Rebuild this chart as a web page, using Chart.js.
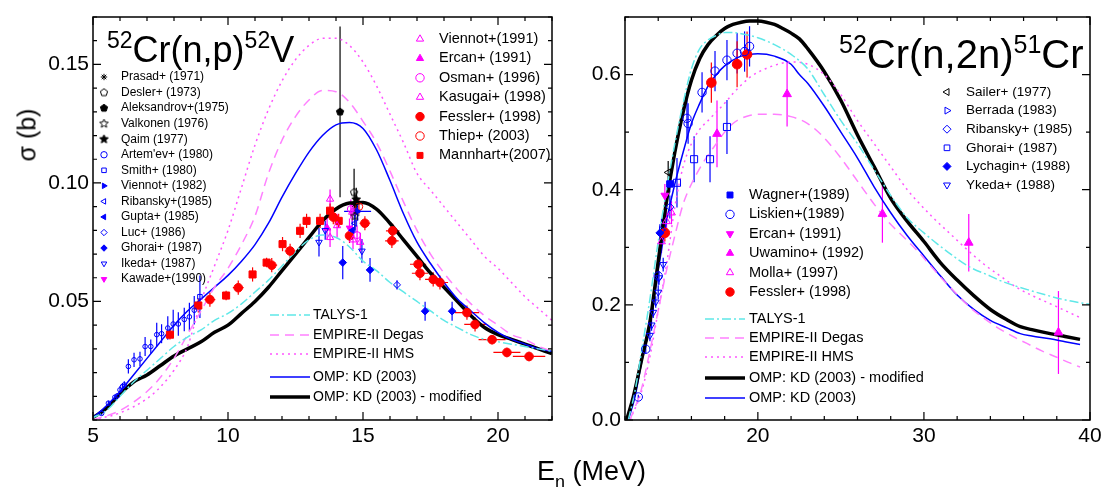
<!DOCTYPE html>
<html>
<head>
<meta charset="utf-8">
<title>52Cr(n,p)52V and 52Cr(n,2n)51Cr</title>
<script src="https://cdn.jsdelivr.net/npm/chart.js"></script>
<style>
  body { margin: 0; background: #fff; }
  #wrap { position: relative; width: 1118px; height: 487px; overflow: hidden;
          font-family: "Liberation Sans", Arial, sans-serif; color: #000; }
  .panel { position: absolute; top: 0; height: 487px; }
  .txt { position: absolute; white-space: nowrap; line-height: 1; }
  .sup { position: relative; }
</style>
</head>
<body>
<div id="wrap">
  <div class="panel" style="left:0;width:560px"><canvas id="npChart"></canvas></div>
  <div class="panel" style="left:560px;width:558px"><canvas id="n2nChart"></canvas></div>

  <div class="txt" style="left:107px;top:32px;font-size:36px"><span class="sup" style="font-size:23px;top:-14px">52</span>Cr(n,p)<span class="sup" style="font-size:23px;top:-14px">52</span>V</div>
  <div class="txt" style="left:839px;top:34px;font-size:40px"><span class="sup" style="font-size:25px;top:-15px">52</span>Cr(n,2n)<span class="sup" style="font-size:25px;top:-15px">51</span>Cr</div>

  <div class="txt" style="left:27px;top:135px;font-size:25px;transform:translate(-50%,-50%) rotate(-90deg)">σ (b)</div>
  <div class="txt" style="left:537px;top:458px;font-size:27px">E<span class="sup" style="font-size:18px;top:8px">n</span> (MeV)</div>
</div>

<script>
// ---------- 52Cr(n,p)52V : 左图数据 [E (MeV), σ (b), dσ, dE] ----------
const npXTicks = [5, 10, 15, 20];
const npYTicks = [0.05, 0.10, 0.15];

const npPrasad = [[14.7, 0.091, 0.005]];
const npDesler = [[14.67, 0.096, 0.010]];
const npAleksandrov = [[14.15, 0.130, 0.036]];
const npValkonen = [[14.7, 0.086, 0.006]];
const npQaim = [[14.75, 0.093, 0.005]];
const npArtemev = [[5.32, 0.0028, 0.0008], [5.57, 0.0071, 0.001], [5.81, 0.0096, 0.001], [5.9, 0.0102, 0.001],
  [6.0, 0.0127, 0.0015], [6.09, 0.0141, 0.0015], [6.16, 0.0148, 0.0015], [6.31, 0.0226, 0.003],
  [6.52, 0.0254, 0.003], [6.74, 0.0258, 0.003], [6.93, 0.031, 0.004], [7.14, 0.031, 0.003],
  [7.36, 0.036, 0.005], [7.54, 0.0364, 0.004], [7.77, 0.0388, 0.005], [7.97, 0.0405, 0.006],
  [8.16, 0.0405, 0.005], [8.38, 0.0424, 0.005], [8.57, 0.0435, 0.006], [8.75, 0.0463, 0.006]];
const npSmith = [[8.96, 0.052, 0.009]];
const npViennot82 = [[14.8, 0.088, 0.004, 0.5]];
const npRibansky = [[14.7, 0.083, 0.004]];
const npGupta = [[14.6, 0.080, 0.004]];
const npLuc = [[16.26, 0.057, 0.002]];
const npGhorai = [[14.25, 0.0664, 0.007], [15.26, 0.0633, 0.005], [17.3, 0.0459, 0.004], [18.3, 0.0459, 0.004]];
const npIkeda = [[13.37, 0.075, 0.006], [13.6, 0.080, 0.004], [14.96, 0.0713, 0.005]];
const npKawade = [[14.5, 0.081, 0.004]];
const npViennot91 = [[13.78, 0.0932, 0.004], [14.04, 0.082, 0.005], [14.63, 0.076, 0.004]];
const npErcan = [[13.67, 0.081, 0.005]];
const npOsman = [[14.78, 0.078, 0.004], [14.55, 0.089, 0.004]];
const npKasugai = [[13.78, 0.077, 0.004], [14.9, 0.075, 0.004], [14.6, 0.0877, 0.004]];
const npFessler = [[9.33, 0.0508, 0.003, 0.2], [10.38, 0.0558, 0.003, 0.2], [11.62, 0.0653, 0.003, 0.2],
  [12.3, 0.0713, 0.003, 0.2], [13.9, 0.0856, 0.003, 0.2], [14.5, 0.0777, 0.003, 0.1],
  [15.07, 0.083, 0.003, 0.2], [16.1, 0.0798, 0.003, 0.25], [16.07, 0.0756, 0.003, 0.25],
  [17.04, 0.0657, 0.003, 0.3], [17.11, 0.0619, 0.003, 0.3], [17.6, 0.0593, 0.003, 0.3],
  [17.85, 0.058, 0.003, 0.3], [18.85, 0.0453, 0.003, 0.45], [19.15, 0.0403, 0.003, 0.4],
  [19.78, 0.0339, 0.002, 0.5], [20.33, 0.0285, 0.002, 0.5], [21.15, 0.0268, 0.002, 0.6]];
const npThiep = [[14.85, 0.090, 0.003]];
const npMannhart = [[7.85, 0.036, 0.002], [8.9, 0.0483, 0.003], [9.93, 0.0525, 0.002], [10.91, 0.0614, 0.003],
  [11.43, 0.0664, 0.002], [12.02, 0.0742, 0.003], [12.67, 0.0798, 0.003], [12.91, 0.084, 0.003],
  [13.41, 0.084, 0.003], [13.78, 0.0883, 0.003], [14.1, 0.084, 0.003]];

// 计算曲线 [E, σ]
const npTalys = [[5, 0.001], [5.5, 0.004], [6, 0.010], [6.5, 0.016], [7, 0.021], [7.5, 0.026], [8, 0.031],
  [8.5, 0.035], [9, 0.038], [9.5, 0.042], [10, 0.045], [10.5, 0.049], [11, 0.054], [11.5, 0.059],
  [12, 0.065], [12.5, 0.071], [13, 0.076], [13.5, 0.078], [14, 0.077], [14.5, 0.073], [15, 0.067],
  [15.5, 0.063], [16, 0.058], [16.5, 0.054], [17, 0.050], [17.5, 0.046], [18, 0.042], [18.5, 0.039],
  [19, 0.036], [19.5, 0.034], [20, 0.033], [20.5, 0.032], [21, 0.031], [21.5, 0.030], [22, 0.029]];
const npDegas = [[5, 0], [6, 0.004], [7, 0.012], [7.5, 0.018], [8, 0.026], [8.5, 0.036], [9, 0.046],
  [9.5, 0.056], [10, 0.064], [10.5, 0.074], [11, 0.086], [11.5, 0.104], [12, 0.118], [12.5, 0.128],
  [13, 0.135], [13.5, 0.139], [14, 0.1385], [14.5, 0.134], [15, 0.126], [15.5, 0.117], [16, 0.105],
  [16.5, 0.092], [17, 0.080], [17.5, 0.070], [18, 0.062], [18.5, 0.055], [19, 0.049], [19.5, 0.044],
  [20, 0.040], [20.5, 0.036], [21, 0.034], [21.5, 0.031], [22, 0.029]];
const npHms = [[5, 0], [6, 0.003], [7, 0.009], [7.5, 0.014], [8, 0.021], [8.5, 0.031], [9, 0.050],
  [9.5, 0.065], [10, 0.080], [10.5, 0.098], [11, 0.116], [11.5, 0.131], [12, 0.143], [12.5, 0.152],
  [13, 0.158], [13.5, 0.161], [14, 0.161], [14.5, 0.158], [15, 0.151], [15.5, 0.141], [16, 0.129],
  [16.5, 0.117], [17, 0.104], [17.5, 0.097], [18, 0.090], [18.5, 0.083], [19, 0.076], [19.5, 0.069],
  [20, 0.064], [20.5, 0.058], [21, 0.052], [21.5, 0.047], [22, 0.042]];
const npKd = [[5, 0.001], [5.5, 0.006], [6, 0.012], [6.5, 0.019], [7, 0.026], [7.5, 0.033], [8, 0.040],
  [8.5, 0.046], [9, 0.051], [9.5, 0.056], [10, 0.061], [10.5, 0.067], [11, 0.074], [11.5, 0.083],
  [12, 0.094], [12.5, 0.104], [13, 0.113], [13.5, 0.120], [14, 0.1245], [14.5, 0.1255], [15, 0.123],
  [15.5, 0.114], [16, 0.101], [16.5, 0.087], [17, 0.075], [17.5, 0.066], [18, 0.058], [18.5, 0.051],
  [19, 0.046], [19.5, 0.041], [20, 0.037], [20.5, 0.034], [21, 0.032], [21.5, 0.030], [22, 0.029]];
const npKdMod = [[5, 0.001], [5.5, 0.005], [6, 0.011], [6.5, 0.016], [7, 0.019], [7.5, 0.023], [8, 0.027],
  [8.5, 0.030], [9, 0.033], [9.5, 0.037], [10, 0.040], [10.5, 0.045], [11, 0.050], [11.5, 0.056],
  [12, 0.063], [12.5, 0.070], [13, 0.077], [13.5, 0.084], [14, 0.089], [14.5, 0.0915], [15, 0.0918],
  [15.5, 0.089], [16, 0.083], [16.5, 0.076], [17, 0.069], [17.5, 0.062], [18, 0.056], [18.5, 0.050],
  [19, 0.044], [19.5, 0.039], [20, 0.036], [20.5, 0.034], [21, 0.032], [21.5, 0.030], [22, 0.028]];

// ---------- 52Cr(n,2n)51Cr : 右图数据 ----------
const n2nXTicks = [20, 30, 40];
const n2nYTicks = [0, 0.2, 0.4, 0.6];

const n2nSailer = [[14.6, 0.43, 0.02]];
const n2nBerrada = [[14.2, 0.33, 0.02]];
const n2nRibansky = [[14.7, 0.37, 0.02]];
const n2nGhorai = [[15.13, 0.412, 0.043], [16.16, 0.453, 0.04], [17.12, 0.453, 0.04], [18.14, 0.509, 0.047]];
const n2nLychagin = [[14.1, 0.325, 0.015]];
const n2nYkeda = [[13.5, 0.147, 0.01], [13.6, 0.165, 0.01], [13.7, 0.187, 0.01], [13.85, 0.205, 0.01],
  [14.0, 0.222, 0.012], [14.05, 0.247, 0.012], [14.3, 0.27, 0.012]];
const n2nWagner = [[14.7, 0.41, 0.015]];
const n2nLiskien = [[12.8, 0.04, 0.004], [13.25, 0.123, 0.008], [14.0, 0.25, 0.015], [15.73, 0.524, 0.035],
  [15.8, 0.515, 0.035], [16.64, 0.569, 0.035], [17.42, 0.606, 0.035], [18.14, 0.625, 0.035],
  [18.75, 0.637, 0.035], [19.2, 0.64, 0.035], [19.5, 0.649, 0.035]];
const n2nErcan = [[14.4, 0.39, 0.02]];
const n2nUwamino = [[17.54, 0.497, 0.058], [21.76, 0.566, 0.056], [27.5, 0.358, 0.05], [32.7, 0.308, 0.05], [38.1, 0.152, 0.072]];
const n2nMolla = [[14.2, 0.31, 0.02], [14.5, 0.345, 0.02], [14.8, 0.36, 0.02]];
const n2nFessler = [[14.4, 0.325, 0.015], [17.2, 0.586, 0.035], [18.75, 0.618, 0.04], [19.35, 0.635, 0.04]];

const n2nTalys = [[12.2, 0], [12.6, 0.05], [13, 0.12], [13.5, 0.21], [14, 0.31], [14.5, 0.40], [15, 0.48],
  [15.5, 0.55], [16, 0.61], [16.5, 0.645], [17, 0.66], [17.5, 0.668], [18, 0.673], [18.5, 0.673],
  [19, 0.671], [19.5, 0.668], [20, 0.664], [21, 0.652], [22, 0.635], [23, 0.61], [24, 0.565],
  [25, 0.52], [26, 0.48], [27, 0.435], [28, 0.39], [29, 0.351], [30, 0.325], [30.8, 0.306],
  [32, 0.28], [32.8, 0.265], [34, 0.25], [34.6, 0.242], [36.4, 0.225], [38.6, 0.208], [40, 0.201], [41.6, 0.194]];
const n2nDegas = [[12.3, 0], [13, 0.055], [13.5, 0.12], [14, 0.19], [14.5, 0.26], [15, 0.32], [15.5, 0.375],
  [16, 0.41], [16.5, 0.437], [17, 0.46], [17.5, 0.48], [18, 0.50], [18.5, 0.515], [19, 0.524],
  [19.5, 0.529], [20, 0.531], [21, 0.531], [22, 0.527], [23, 0.515], [24, 0.49], [25, 0.455],
  [26, 0.415], [27, 0.375], [27.8, 0.346], [28.7, 0.32], [29.6, 0.294], [30.4, 0.268], [31.2, 0.242],
  [32, 0.218], [32.8, 0.195], [33.6, 0.177], [34.4, 0.161], [35.3, 0.146], [36.2, 0.133], [37.1, 0.12],
  [38, 0.109], [38.7, 0.1], [39.4, 0.092]];
const n2nHms = [[12.3, 0], [13, 0.05], [13.5, 0.11], [14, 0.19], [14.5, 0.27], [15, 0.37], [15.5, 0.44],
  [16, 0.48], [16.5, 0.505], [17, 0.52], [17.5, 0.535], [18, 0.55], [18.5, 0.567], [19, 0.582],
  [19.5, 0.595], [20, 0.604], [21, 0.616], [22, 0.622], [23, 0.618], [24, 0.60], [25, 0.565],
  [26, 0.52], [27, 0.48], [28, 0.44], [29, 0.40], [29.6, 0.38], [30.6, 0.35], [31.6, 0.323],
  [32.6, 0.296], [33.6, 0.271], [34.6, 0.25], [35.6, 0.23], [36.6, 0.215], [37.6, 0.202], [38.5, 0.19], [39.4, 0.178]];
const n2nKdMod = [[12.1, 0], [12.5, 0.04], [13, 0.105], [13.5, 0.17], [14, 0.275], [14.5, 0.38], [15, 0.465],
  [15.5, 0.535], [16, 0.59], [16.5, 0.628], [17, 0.652], [17.5, 0.668], [18, 0.68], [18.5, 0.687],
  [19, 0.691], [19.5, 0.693], [20, 0.693], [20.5, 0.691], [21, 0.687], [21.5, 0.68], [22, 0.672],
  [22.5, 0.662], [23, 0.645], [24, 0.605], [25, 0.555], [26, 0.495], [27, 0.44], [28, 0.385],
  [29, 0.345], [30, 0.31], [31, 0.273], [32, 0.243], [33, 0.216], [34, 0.192], [35, 0.174],
  [35.8, 0.162], [36.5, 0.157], [37.6, 0.150], [38.5, 0.145], [39.4, 0.14]];
const n2nKd = [[12.2, 0], [12.6, 0.04], [13, 0.10], [13.5, 0.165], [14, 0.26], [14.5, 0.345], [15, 0.41],
  [15.5, 0.465], [16, 0.515], [16.5, 0.55], [17, 0.58], [17.5, 0.6], [18, 0.615], [18.5, 0.625],
  [19, 0.632], [19.5, 0.635], [20, 0.636], [21, 0.632], [22, 0.618], [22.5, 0.60], [23, 0.585],
  [24, 0.545], [25, 0.50], [26, 0.455], [27, 0.405], [28, 0.36], [29, 0.32], [30, 0.285], [31, 0.25],
  [32, 0.217], [33, 0.192], [34, 0.173], [35, 0.16], [35.8, 0.15], [36.5, 0.146], [37.6, 0.141],
  [38.5, 0.136], [39.4, 0.131]];

// ---------- 样式 ----------
const FONT = '"Liberation Sans", Arial, sans-serif';
const BLUE = '#0000ff', MAG = '#ff00ff', RED = '#ff0000', BLACK = '#000000';
const CYAN = '#5fe8e8', PINK_DASH = '#ff80ff', PINK_DOT = '#ff55ff';
Chart.defaults.font.family = FONT;

// 五边形 / 五角星标记（Chart.js 没有自带）
function shapeImg(kind, r, fill, stroke) {
  const c = document.createElement('canvas');
  const s = Math.ceil(r * 2 + 4);
  c.width = c.height = s;
  const g = c.getContext('2d');
  g.translate(s / 2, s / 2);
  g.beginPath();
  const n = kind === 'star' ? 10 : 5;
  for (let i = 0; i < n; i++) {
    const a = -Math.PI / 2 + i * 2 * Math.PI / n;
    const rr = (kind === 'star' && i % 2) ? r * 0.45 : r;
    g.lineTo(rr * Math.cos(a), rr * Math.sin(a));
  }
  g.closePath();
  if (fill) { g.fillStyle = fill; g.fill(); }
  g.lineWidth = 1;
  g.strokeStyle = stroke;
  g.stroke();
  return c;
}

function pts(rows) {
  return rows.map(r => ({ x: r[0], y: r[1], dy: r[2] || 0, dx: r[3] || 0 }));
}

// 实验点
function marks(label, rows, color, style, open, r, extra) {
  return Object.assign({
    label: label, data: pts(rows), showLine: false, errors: true,
    pointStyle: style, pointRadius: r, pointHoverRadius: r, pointRotation: 0,
    backgroundColor: open ? 'rgba(0,0,0,0)' : color,
    borderColor: color, borderWidth: 1
  }, extra || {});
}

// 理论曲线
function curve(label, rows, color, width, dash, extra) {
  return Object.assign({
    label: label, data: rows.map(r => ({ x: r[0], y: r[1] })), showLine: true,
    pointRadius: 0, pointHoverRadius: 0, borderColor: color, backgroundColor: color,
    borderWidth: width, borderDash: dash || [], cubicInterpolationMode: 'monotone', fill: false
  }, extra || {});
}

// 误差棒
const errPlugin = {
  id: 'errBars',
  beforeDatasetsDraw(chart) {
    const { ctx, scales: { x, y } } = chart;
    ctx.save();
    chart.data.datasets.forEach(ds => {
      if (!ds.errors) return;
      ctx.strokeStyle = ds.borderColor;
      ctx.lineWidth = ds.errWidth || 1.2;
      ds.data.forEach(p => {
        const px = x.getPixelForValue(p.x), py = y.getPixelForValue(p.y);
        ctx.beginPath();
        if (p.dy) {
          ctx.moveTo(px, y.getPixelForValue(p.y - p.dy));
          ctx.lineTo(px, y.getPixelForValue(p.y + p.dy));
        }
        if (p.dx) {
          ctx.moveTo(x.getPixelForValue(p.x - p.dx), py);
          ctx.lineTo(x.getPixelForValue(p.x + p.dx), py);
        }
        ctx.stroke();
      });
    });
    ctx.restore();
  }
};

// 边框 + 内向刻度（四边）
const framePlugin = {
  id: 'frameTicks',
  afterDraw(chart, args, opts) {
    const { ctx, chartArea: a, scales: { x, y } } = chart;
    ctx.save();
    ctx.strokeStyle = '#000';
    ctx.lineWidth = 1.5;
    ctx.strokeRect(a.left, a.top, a.right - a.left, a.bottom - a.top);
    ctx.lineWidth = 1.2;
    ctx.beginPath();
    const each = (scale, step, fn) => {
      const lo = Math.ceil(scale.min / step - 1e-6), hi = Math.floor(scale.max / step + 1e-6);
      for (let n = lo; n <= hi; n++) {
        const v = n * step;
        const major = scale.ticks.some(t => Math.abs(t.value - v) < step / 100);
        fn(scale.getPixelForValue(v), major ? 8 : 4);
      }
    };
    each(x, opts.xMinor, (px, len) => {
      ctx.moveTo(px, a.bottom); ctx.lineTo(px, a.bottom - len);
      ctx.moveTo(px, a.top); ctx.lineTo(px, a.top + len);
    });
    each(y, opts.yMinor, (py, len) => {
      ctx.moveTo(a.left, py); ctx.lineTo(a.left + len, py);
      ctx.moveTo(a.right, py); ctx.lineTo(a.right - len, py);
    });
    ctx.stroke();
    ctx.restore();
  }
};

// 图内图例
const keyPlugin = {
  id: 'keyBoxes',
  afterDraw(chart, args, opts) {
    const ctx = chart.ctx;
    const sets = chart.data.datasets;
    ctx.save();
    opts.groups.forEach(g => {
      ctx.font = g.size + 'px ' + FONT;
      ctx.textBaseline = 'middle';
      g.labels.forEach((name, i) => {
        const ds = sets.find(d => d.label === name);
        const y = g.ys ? g.ys[i] : g.y + i * g.dy;
        if (ds.showLine) {
          ctx.strokeStyle = ds.borderColor;
          ctx.lineWidth = ds.borderWidth;
          ctx.setLineDash(ds.borderDash || []);
          ctx.beginPath();
          ctx.moveTo(g.lineX0, y);
          ctx.lineTo(g.lineX1, y);
          ctx.stroke();
          ctx.setLineDash([]);
        } else {
          ctx.fillStyle = ds.backgroundColor;
          ctx.strokeStyle = ds.borderColor;
          ctx.lineWidth = ds.borderWidth;
          Chart.helpers.drawPoint(ctx, {
            pointStyle: ds.pointStyle, radius: g.r || ds.pointRadius,
            rotation: ds.pointRotation || 0, borderWidth: ds.borderWidth
          }, g.markX, y);
        }
        ctx.fillStyle = '#000';
        ctx.fillText(name, g.textX, y);
      });
    });
    ctx.restore();
  }
};

function buildPanel(id, cfg) {
  return new Chart(document.getElementById(id), {
    type: 'scatter',
    data: { datasets: cfg.datasets },
    options: {
      responsive: true,
      maintainAspectRatio: false,
      animation: false,
      events: [],
      layout: { padding: cfg.padding },
      plugins: {
        legend: { display: false },
        tooltip: { enabled: false },
        keyBoxes: { groups: cfg.keys },
        frameTicks: cfg.minor
      },
      scales: {
        x: {
          type: 'linear', min: cfg.xMin, max: cfg.xMax,
          grid: { display: false, drawTicks: false }, border: { display: false },
          afterFit: s => { s.height = 67; },
          afterBuildTicks: s => { s.ticks = cfg.xTicks.map(v => ({ value: v })); },
          ticks: { font: { size: 21 }, color: '#000', padding: 4, maxRotation: 0, autoSkip: false,
                   callback: v => String(v) }
        },
        y: {
          type: 'linear', min: cfg.yMin, max: cfg.yMax,
          grid: { display: false, drawTicks: false }, border: { display: false },
          afterFit: s => { s.width = cfg.yWidth; },
          afterBuildTicks: s => { s.ticks = cfg.yTicks.map(v => ({ value: v })); },
          ticks: { font: { size: 21 }, color: '#000', padding: 4, autoSkip: false,
                   callback: v => v.toFixed(cfg.yDigits) }
        }
      }
    },
    plugins: [errPlugin, framePlugin, keyPlugin]
  });
}

// ---------- 左图 ----------
buildPanel('npChart', {
  padding: { top: 17, right: 8, left: 0, bottom: 0 },
  yWidth: 93,
  xMin: 5, xMax: 22, yMin: 0, yMax: 0.17,
  xTicks: npXTicks, yTicks: npYTicks, yDigits: 2,
  minor: { xMinor: 1, yMinor: 0.01 },
  datasets: [
    marks('Prasad+ (1971)', npPrasad, BLACK, 'star', false, 3.5),
    marks('Desler+ (1973)', npDesler, BLACK, shapeImg('pent', 3.8, null, BLACK), true, 3.5),
    marks('Aleksandrov+(1975)', npAleksandrov, BLACK, shapeImg('pent', 3.8, BLACK, BLACK), false, 3.5),
    marks('Valkonen (1976)', npValkonen, BLACK, shapeImg('star', 4.5, null, BLACK), true, 3.5),
    marks('Qaim (1977)', npQaim, BLACK, shapeImg('star', 4.5, BLACK, BLACK), false, 3.5),
    marks("Artem'ev+ (1980)", npArtemev, BLUE, 'circle', true, 2.3),
    marks('Smith+ (1980)', npSmith, BLUE, 'rect', true, 3.2),
    marks('Viennot+ (1982)', npViennot82, BLUE, 'triangle', false, 3.5, { pointRotation: 90 }),
    marks('Ribansky+(1985)', npRibansky, BLUE, 'triangle', true, 3.5, { pointRotation: 270 }),
    marks('Gupta+ (1985)', npGupta, BLUE, 'triangle', false, 3.5, { pointRotation: 270 }),
    marks('Luc+ (1986)', npLuc, BLUE, 'rectRot', true, 3.5),
    marks('Ghorai+ (1987)', npGhorai, BLUE, 'rectRot', false, 3.8),
    marks('Ikeda+ (1987)', npIkeda, BLUE, 'triangle', true, 3.8, { pointRotation: 180 }),
    marks('Kawade+(1990)', npKawade, MAG, 'triangle', false, 3.8, { pointRotation: 180 }),
    marks('Viennot+(1991)', npViennot91, MAG, 'triangle', true, 4.2),
    marks('Ercan+ (1991)', npErcan, MAG, 'triangle', false, 4.2),
    marks('Osman+ (1996)', npOsman, MAG, 'circle', true, 3.5),
    marks('Kasugai+ (1998)', npKasugai, MAG, 'triangle', true, 4.2),
    marks('Fessler+ (1998)', npFessler, RED, 'circle', false, 4.3),
    marks('Thiep+ (2003)', npThiep, RED, 'circle', true, 3.8),
    marks('Mannhart+(2007)', npMannhart, RED, 'rect', false, 5),
    curve('TALYS-1', npTalys, CYAN, 1.5, [9, 3, 2, 3]),
    curve('EMPIRE-II Degas', npDegas, PINK_DASH, 1.5, [9, 6]),
    curve('EMPIRE-II HMS', npHms, PINK_DOT, 1.5, [2, 4]),
    curve('OMP: KD (2003)', npKd, BLUE, 1.5),
    curve('OMP: KD (2003) - modified', npKdMod, BLACK, 3.5)
  ],
  keys: [
    { size: 12, markX: 104, textX: 121, y: 77, dy: 15.55, r: 3.2,
      labels: ['Prasad+ (1971)', 'Desler+ (1973)', 'Aleksandrov+(1975)', 'Valkonen (1976)', 'Qaim (1977)',
               "Artem'ev+ (1980)", 'Smith+ (1980)', 'Viennot+ (1982)', 'Ribansky+(1985)', 'Gupta+ (1985)',
               'Luc+ (1986)', 'Ghorai+ (1987)', 'Ikeda+ (1987)', 'Kawade+(1990)'] },
    { size: 14.5, markX: 420, textX: 439, y: 39, dy: 19.4, r: 4.2,
      labels: ['Viennot+(1991)', 'Ercan+ (1991)', 'Osman+ (1996)', 'Kasugai+ (1998)', 'Fessler+ (1998)',
               'Thiep+ (2003)', 'Mannhart+(2007)'] },
    { size: 14, lineX0: 270, lineX1: 310, textX: 313, ys: [315, 335, 354, 377, 397],
      labels: ['TALYS-1', 'EMPIRE-II Degas', 'EMPIRE-II HMS', 'OMP: KD (2003)', 'OMP: KD (2003) - modified'] }
  ]
});

// ---------- 右图 ----------
buildPanel('n2nChart', {
  padding: { top: 17, right: 28, left: 0, bottom: 0 },
  yWidth: 65,
  xMin: 12, xMax: 40, yMin: 0, yMax: 0.7,
  xTicks: n2nXTicks, yTicks: n2nYTicks, yDigits: 1,
  minor: { xMinor: 2, yMinor: 0.1 },
  datasets: [
    marks('Sailer+ (1977)', n2nSailer, BLACK, 'triangle', true, 4, { pointRotation: 270 }),
    marks('Berrada (1983)', n2nBerrada, BLUE, 'triangle', true, 4, { pointRotation: 90 }),
    marks('Ribansky+ (1985)', n2nRibansky, BLUE, 'rectRot', true, 4),
    marks('Ghorai+ (1987)', n2nGhorai, BLUE, 'rect', true, 5),
    marks('Lychagin+ (1988)', n2nLychagin, BLUE, 'rectRot', false, 4),
    marks('Ykeda+ (1988)', n2nYkeda, BLUE, 'triangle', true, 4, { pointRotation: 180 }),
    marks('Wagner+(1989)', n2nWagner, BLUE, 'rect', false, 4.5),
    marks('Liskien+(1989)', n2nLiskien, BLUE, 'circle', true, 4.2),
    marks('Ercan+ (1991)', n2nErcan, MAG, 'triangle', false, 4.5, { pointRotation: 180 }),
    marks('Uwamino+ (1992)', n2nUwamino, MAG, 'triangle', false, 5),
    marks('Molla+ (1997)', n2nMolla, MAG, 'triangle', true, 4.5),
    marks('Fessler+ (1998)', n2nFessler, RED, 'circle', false, 4.8),
    curve('TALYS-1', n2nTalys, CYAN, 1.5, [9, 3, 2, 3], { clip: { left: 0, top: 0, right: false, bottom: 0 } }),
    curve('EMPIRE-II Degas', n2nDegas, PINK_DASH, 1.5, [9, 6]),
    curve('EMPIRE-II HMS', n2nHms, PINK_DOT, 1.5, [2, 4]),
    curve('OMP: KD (2003) - modified', n2nKdMod, BLACK, 3.5),
    curve('OMP: KD (2003)', n2nKd, BLUE, 1.5)
  ],
  keys: [
    { size: 13.5, markX: 387, textX: 406, y: 92, dy: 18.6, r: 4,
      labels: ['Sailer+ (1977)', 'Berrada (1983)', 'Ribansky+ (1985)', 'Ghorai+ (1987)', 'Lychagin+ (1988)', 'Ykeda+ (1988)'] },
    { size: 14.5, markX: 170, textX: 189, y: 195, dy: 19.4, r: 4.2,
      labels: ['Wagner+(1989)', 'Liskien+(1989)', 'Ercan+ (1991)', 'Uwamino+ (1992)', 'Molla+ (1997)', 'Fessler+ (1998)'] },
    { size: 14.5, lineX0: 145, lineX1: 185, textX: 189, ys: [319, 338, 357, 378, 398],
      labels: ['TALYS-1', 'EMPIRE-II Degas', 'EMPIRE-II HMS', 'OMP: KD (2003) - modified', 'OMP: KD (2003)'] }
  ]
});
</script>
</body>
</html>
